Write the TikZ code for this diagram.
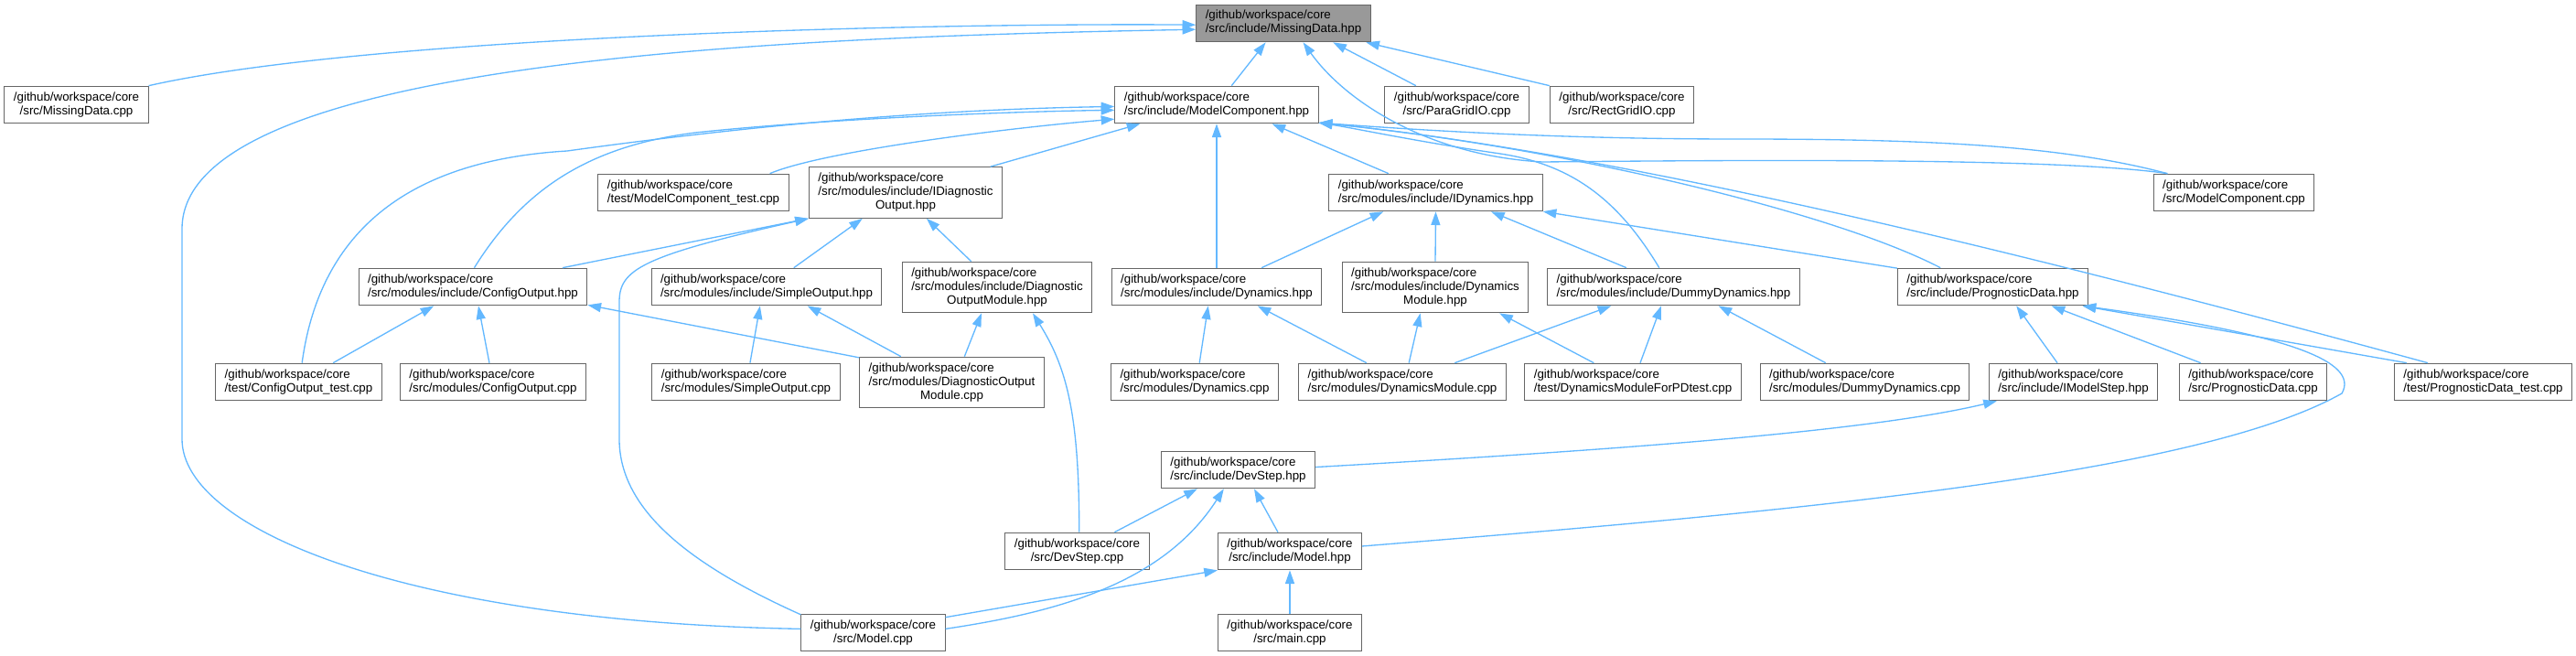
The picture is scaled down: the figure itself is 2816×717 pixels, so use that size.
\documentclass[tikz,border=0pt]{standalone}
\usepackage{fontspec}
\setmainfont{Liberation Sans}
\usetikzlibrary{arrows.meta}
\definecolor{dEdge}{HTML}{63B8FF}
\definecolor{dLine}{HTML}{666666}
\definecolor{dRoot}{HTML}{999999}
% file label: all lines left, last line centred
\newcommand{\flab}[2]{\begin{tabular}{@{}l@{}}#1\\\multicolumn{1}{@{}c@{}}{#2}\end{tabular}}
\newcommand{\wsp}{/github/workspace/core}

\begin{document}
\begin{tikzpicture}[x=0.75pt, y=-0.75pt,
  file/.style={draw=dLine, fill=white, line width=0.75pt, inner xsep=7.5pt,
               inner ysep=4pt, font=\fontsize{10}{11.25}\selectfont},
  root/.style={file, fill=dRoot},
  dep/.style={-{Triangle[length=11pt, width=7.5pt]}, dEdge, line width=1pt}]
  \useasboundingbox (0,0) rectangle (2816,717);

  % top rows
  \node[root] (mdh)  at (1403,25.5)   {\flab{\wsp}{/src/include/MissingData.hpp}};
  \node[file] (mdc)  at (83.5,114.5)  {\flab{\wsp}{/src/MissingData.cpp}};
  \node[file] (mch)  at (1330,114.5)  {\flab{\wsp}{/src/include/ModelComponent.hpp}};
  \node[file] (pgio) at (1592.5,114.5){\flab{\wsp}{/src/ParaGridIO.cpp}};
  \node[file] (rgio) at (1773,114.5)  {\flab{\wsp}{/src/RectGridIO.cpp}};
  \node[file] (mct)  at (758,210.5)   {\flab{\wsp}{/test/ModelComponent\_test.cpp}};
  \node[file] (ido)  at (990,210.5)   {\flab{\wsp\\/src/modules/include/IDiagnostic}{Output.hpp}};
  \node[file] (idy)  at (1569.5,210.5){\flab{\wsp}{/src/modules/include/IDynamics.hpp}};
  \node[file] (mcc)  at (2442,210.5)  {\flab{\wsp}{/src/ModelComponent.cpp}};

  % headers
  \node[file] (coh)  at (517,313.5)   {\flab{\wsp}{/src/modules/include/ConfigOutput.hpp}};
  \node[file] (soh)  at (838,313.5)   {\flab{\wsp}{/src/modules/include/SimpleOutput.hpp}};
  \node[file] (dmh)  at (1090,314)    {\flab{\wsp\\/src/modules/include/Diagnostic}{OutputModule.hpp}};
  \node[file] (dyh)  at (1330,313.5)  {\flab{\wsp}{/src/modules/include/Dynamics.hpp}};
  \node[file] (dmoh) at (1569,314)    {\flab{\wsp\\/src/modules/include/Dynamics}{Module.hpp}};
  \node[file] (ddh)  at (1829.5,313.5){\flab{\wsp}{/src/modules/include/DummyDynamics.hpp}};
  \node[file] (pdh)  at (2178.5,313.5){\flab{\wsp}{/src/include/PrognosticData.hpp}};

  % sources
  \node[file] (cot)  at (326.5,417.5) {\flab{\wsp}{/test/ConfigOutput\_test.cpp}};
  \node[file] (coc)  at (539,417.5)   {\flab{\wsp}{/src/modules/ConfigOutput.cpp}};
  \node[file] (soc)  at (815.5,417.5) {\flab{\wsp}{/src/modules/SimpleOutput.cpp}};
  \node[file] (dmc)  at (1040.5,418)  {\flab{\wsp\\/src/modules/DiagnosticOutput}{Module.cpp}};
  \node[file] (dyc)  at (1306,417.5)  {\flab{\wsp}{/src/modules/Dynamics.cpp}};
  \node[file] (dmoc) at (1533,417.5)  {\flab{\wsp}{/src/modules/DynamicsModule.cpp}};
  \node[file] (dmpd) at (1785,417.5)  {\flab{\wsp}{/test/DynamicsModuleForPDtest.cpp}};
  \node[file] (ddc)  at (2038.5,417.5){\flab{\wsp}{/src/modules/DummyDynamics.cpp}};
  \node[file] (ims)  at (2266.5,417.5){\flab{\wsp}{/src/include/IModelStep.hpp}};
  \node[file] (pdc)  at (2463,417.5)  {\flab{\wsp}{/src/PrognosticData.cpp}};
  \node[file] (pdt)  at (2714.5,417.5){\flab{\wsp}{/test/PrognosticData\_test.cpp}};

  % bottom
  \node[file] (dsh)  at (1353.5,513.5){\flab{\wsp}{/src/include/DevStep.hpp}};
  \node[file] (dsc)  at (1177.5,602.5){\flab{\wsp}{/src/DevStep.cpp}};
  \node[file] (mh)   at (1410,602.5)  {\flab{\wsp}{/src/include/Model.hpp}};
  \node[file] (mcpp) at (954.5,691.5) {\flab{\wsp}{/src/Model.cpp}};
  \node[file] (mainc) at (1410,691.5) {\flab{\wsp}{/src/main.cpp}};

  % straight includes
  \foreach \a/\b in {mch.52/mdh.227, pgio.155/mdh.339, rgio.north west/mdh.347,
      ido.17/mch.194, dyh.north/mch.south, idy.158/mch.341,
      coh.12/ido.south west, soh.35/ido.211, dmh.135/ido.309,
      cot.29/coh.206, coc.101/coh.286, dmc.165/coh.351,
      soc.78/soh.251, dmc.153/soh.335, dmc.64/dmh.239,
      dyh.23/idy.200, dmoh.north/idy.south, ddh.158/idy.341, pdh.169/idy.350,
      dyc.76/dyh.246, dmoc.152/dyh.335, dmoc.71/dmoh.240, dmpd.154/dmoh.338,
      dmoc.20/ddh.197, dmpd.69/ddh.237, ddc.154/ddh.337,
      ims.130/pdh.321, pdc.160/pdh.342, pdt.166/pdh.348,
      dsc.27/dsh.205, mh.122/dsh.310, mcpp.12/mh.south west, mainc.north/mh.south}
    {\draw[dep] (\a) -- (\b);}

  % curved includes
  \draw[dep] (mdc.north east) .. controls (400,40) and (1000,25) .. (mdh.181);
  \draw[dep] (mcpp.177) .. controls (450,680) and (199,580) .. (199,480) -- (199,250)
    .. controls (199,60) and (900,40) .. (mdh.184);
  \draw[dep] (mcc.164) .. controls (2250,172) and (1900,175) .. (1686,177)
    .. controls (1560,170) and (1470,110) .. (mdh.316);
  \draw[dep] (mcc.164) .. controls (2250,158) and (2100,152) .. (1900,152)
    .. controls (1700,152) and (1550,142) .. (mch.350);
  \draw[dep] (cot.80) .. controls (350,250) and (450,175) .. (620,165)
    .. controls (800,140) and (1000,120) .. (mch.181);
  \draw[dep] (coh.86) .. controls (570,210) and (640,160) .. (760,145)
    .. controls (900,130) and (1100,122) .. (mch.183);
  \draw[dep] (mct.14) .. controls (900,165) and (1100,140) .. (mch.188);
  \draw[dep] (ddh.127) .. controls (1770,220) and (1720,180) .. (1640,168)
    .. controls (1550,155) and (1480,140) .. (mch.350);
  \draw[dep] (pdh.160) .. controls (2000,230) and (1700,160) .. (mch.350);
  \draw[dep] (pdt.161) .. controls (2300,300) and (1800,170) .. (mch.350);
  \draw[dep] (mcpp.166) .. controls (760,620) and (677,560) .. (677,480) -- (677,330)
    .. controls (677,295) and (700,280) .. (ido.south west);
  \draw[dep] (dsc.84) .. controls (1180,450) and (1165,400) .. (dmh.324);
  \draw[dep] (mh.4) .. controls (1950,560) and (2400,520) .. (2560,430)
    .. controls (2580,395) and (2500,365) .. (pdh.348);
  \draw[dep] (dsh.2) .. controls (1800,490) and (2050,470) .. (ims.194);
  \draw[dep] (mcpp.3) .. controls (1150,670) and (1270,640) .. (dsh.233);
\end{tikzpicture}
\end{document}
